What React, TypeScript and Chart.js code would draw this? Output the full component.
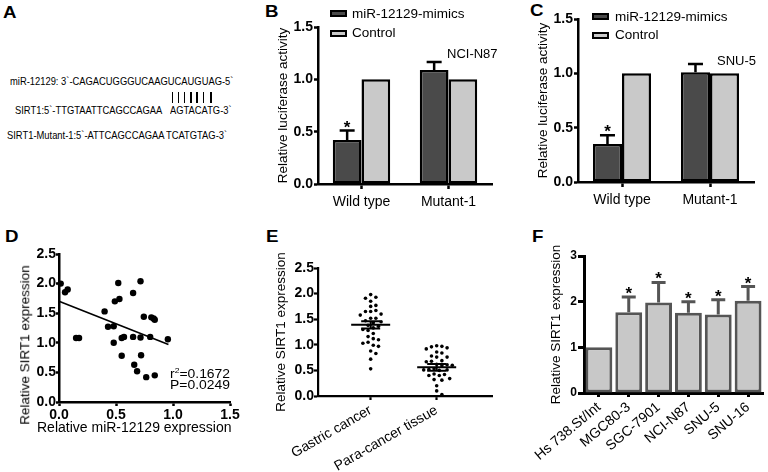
import React, { useEffect, useRef } from "react";
import { Chart, registerables } from "chart.js";
Chart.register(...registerables);

const FONT = "'Liberation Sans', Arial, Helvetica, sans-serif";
Chart.defaults.font.family = FONT;
Chart.defaults.color = "#000";

// ---------------- data ----------------
// Panels B / C (luciferase)
const lucCategories = ["Wild type", "Mutant-1"];
const lucTicks = [0, 0.5, 1.0, 1.5];
const bMimics = [0.42, 1.09];
const bMimicsErr = [0.09, 0.075];
const bControl = [1.0, 1.0];
const bStars = [true, false];
const cMimics = [0.35, 1.01];
const cMimicsErr = [0.08, 0.075];
const cControl = [1.0, 1.0];
const cStars = [true, false];

// Panel D (correlation)
const dMir = [0.015, 0.053, 0.076, 0.15, 0.176, 0.40, 0.43, 0.48, 0.48, 0.49, 0.53, 0.52, 0.55, 0.57, 0.55, 0.65, 0.65, 0.66, 0.685, 0.715, 0.715, 0.72, 0.744, 0.765, 0.80, 0.81, 0.83, 0.84, 0.84, 0.955];
const dSirt = [2.00, 1.855, 1.90, 1.08, 1.08, 1.53, 1.27, 1.28, 1.00, 1.70, 1.74, 2.01, 1.08, 1.10, 0.78, 1.84, 1.10, 0.63, 0.52, 2.04, 1.09, 0.79, 1.44, 0.42, 1.10, 1.43, 1.41, 1.39, 0.45, 1.06];
const dRegX = [0, 0.96];
const dRegY = [1.70, 0.97];
const dXTicks = [0, 0.5, 1.0, 1.5];
const sirtTicks = [0, 0.5, 1.0, 1.5, 2.0, 2.5];

// Panel E (tissue)
const eGroups = ["Gastric cancer", "Para-cancer tissue"];
const eGastric = [1.98, 1.93, 1.91, 1.85, 1.77, 1.75, 1.67, 1.65, 1.65, 1.60, 1.58, 1.52, 1.52, 1.47, 1.45, 1.43, 1.38, 1.36, 1.33, 1.30, 1.28, 1.22, 1.16, 1.12, 1.10, 1.05, 1.03, 0.99, 0.97, 0.88, 0.83, 0.72, 0.53];
const ePara = [0.98, 0.97, 0.96, 0.94, 0.92, 0.86, 0.84, 0.78, 0.76, 0.76, 0.69, 0.68, 0.67, 0.62, 0.61, 0.60, 0.59, 0.53, 0.52, 0.51, 0.51, 0.50, 0.43, 0.42, 0.40, 0.40, 0.34, 0.32, 0.31, 0.20, 0.10, 0.03];
const eMeans = [1.39, 0.56];
const eSems = [0.07, 0.065];

// Panel F (cell lines)
const fLines = ["Hs 738.St/Int", "MGC80-3", "SGC-7901", "NCI-N87", "SNU-5", "SNU-16"];
const fValues = [1.0, 1.77, 1.98, 1.76, 1.72, 2.02];
const fErr = [0, 0.33, 0.44, 0.24, 0.32, 0.31];
const fStars = [false, true, true, true, true, true];
const fTicks = [0, 1, 2, 3];

// ---------------- helpers ----------------
const errorBarPlugin = {
  id: "errorBars",
  afterDatasetsDraw(chart: any) {
    const ctx = chart.ctx;
    chart.data.datasets.forEach((ds: any, di: number) => {
      if (!ds.errors) return;
      const meta = chart.getDatasetMeta(di);
      const ys = chart.scales[meta.yAxisID];
      meta.data.forEach((bar: any, i: number) => {
        const err = ds.errors[i];
        const v = ds.data[i];
        const yTop = ys.getPixelForValue(v + err);
        ctx.save();
        if (err > 0) {
          ctx.strokeStyle = ds.errColor;
          ctx.lineWidth = ds.errWidth;
          ctx.beginPath();
          ctx.moveTo(bar.x, bar.y);
          ctx.lineTo(bar.x, yTop);
          ctx.moveTo(bar.x - ds.capWidth / 2, yTop);
          ctx.lineTo(bar.x + ds.capWidth / 2, yTop);
          ctx.stroke();
        }
        if (ds.stars && ds.stars[i]) {
          ctx.fillStyle = "#000";
          ctx.font = `bold 17px ${FONT}`;
          ctx.textAlign = "center";
          ctx.textBaseline = "alphabetic";
          ctx.fillText("*", bar.x, yTop + 2);
        }
        ctx.restore();
      });
    });
  },
};

const meanSemPlugin = {
  id: "meanSem",
  afterDatasetsDraw(chart: any) {
    const ctx = chart.ctx;
    const xs = chart.scales.x;
    const ys = chart.scales.y;
    ctx.save();
    ctx.strokeStyle = "#000";
    ctx.lineWidth = 2;
    eMeans.forEach((m, i) => {
      const x = xs.getPixelForValue(i + 1);
      const ym = ys.getPixelForValue(m);
      const y1 = ys.getPixelForValue(m + eSems[i]);
      const y0 = ys.getPixelForValue(m - eSems[i]);
      ctx.beginPath();
      ctx.moveTo(x - 19.5, ym);
      ctx.lineTo(x + 19.5, ym);
      ctx.moveTo(x, y0);
      ctx.lineTo(x, y1);
      ctx.moveTo(x - 9.5, y0);
      ctx.lineTo(x + 9.5, y0);
      ctx.moveTo(x - 9.5, y1);
      ctx.lineTo(x + 9.5, y1);
      ctx.stroke();
    });
    ctx.restore();
  },
};

function swarmOffsets(vals: number[], pxPerY: number, minDist: number, step: number): number[] {
  const order = vals.map((_, i) => i).sort((a, b) => vals[b] - vals[a]);
  const placed: { o: number; y: number }[] = [];
  const res = new Array(vals.length).fill(0);
  for (const i of order) {
    const y = vals[i] * pxPerY;
    for (let k = 0; k < 60; k++) {
      const o = (k % 2 === 1 ? 1 : -1) * Math.ceil(k / 2) * step;
      if (placed.every((p) => (p.o - o) ** 2 + (p.y - y) ** 2 >= minDist * minDist)) {
        res[i] = o;
        placed.push({ o, y });
        break;
      }
    }
  }
  return res;
}

function axisStyle(width: number, tickLen: number) {
  return {
    border: { display: true, color: "#000", width },
    grid: {
      display: true,
      drawOnChartArea: false,
      drawTicks: true,
      tickLength: tickLen,
      tickWidth: width,
      tickColor: "#000",
      offset: false,
    },
  };
}

type Area = { top: number; right: number; yw: number; xh: number; tp: number };

function baseOptions(area: Area) {
  return {
    responsive: false,
    animation: false,
    events: [],
    layout: { padding: { left: 0, top: area.top, right: area.right, bottom: 0 } },
    plugins: { legend: { display: false }, tooltip: { enabled: false } },
  };
}

const tickFont = { size: 14, weight: "bold" };

function lucConfig(mimics: number[], err: number[], stars: boolean[], control: number[], area: Area) {
  return {
    type: "bar",
    data: {
      labels: lucCategories,
      datasets: [
        {
          label: "miR-12129-mimics",
          data: mimics,
          backgroundColor: "#4a4a4a",
          borderColor: "#000",
          borderWidth: 2.5,
          borderSkipped: false,
          categoryPercentage: 0.66,
          barPercentage: 1,
          errors: err,
          stars,
          errColor: "#000",
          errWidth: 2.5,
          capWidth: 15,
        },
        {
          label: "Control",
          data: control,
          backgroundColor: "#c9c9c9",
          borderColor: "#000",
          borderWidth: 2.5,
          borderSkipped: false,
          categoryPercentage: 0.66,
          barPercentage: 1,
        },
      ],
    },
    options: {
      ...baseOptions(area),
      scales: {
        x: {
          ...axisStyle(2.5, 5),
          ticks: { font: { size: 14 }, color: "#000", padding: 5, maxRotation: 0, autoSkip: false },
          afterFit: (s: any) => { s.height = area.xh; },
        },
        y: {
          ...axisStyle(2.5, 4),
          min: 0,
          max: 1.5,
          ticks: { font: tickFont, color: "#000", padding: 1, callback: (v: any) => Number(v).toFixed(1) },
          afterBuildTicks: (s: any) => { s.ticks = lucTicks.map((v) => ({ value: v })); },
          afterFit: (s: any) => { s.width = area.yw; },
          title: { display: true, text: "Relative luciferase activity", font: { size: 13.5 }, color: "#000", padding: { top: area.tp, bottom: 0 } },
        },
      },
    },
    plugins: [errorBarPlugin],
  };
}

function dConfig(area: Area) {
  return {
    type: "scatter",
    data: {
      datasets: [
        {
          data: dMir.map((x, i) => ({ x, y: dSirt[i] })),
          pointRadius: 3.2,
          pointBackgroundColor: "#000",
          backgroundColor: "#000",
          pointBorderWidth: 0,
          clip: false,
        },
        {
          data: dRegX.map((x, i) => ({ x, y: dRegY[i] })),
          showLine: true,
          borderColor: "#000",
          borderWidth: 1.6,
          pointRadius: 0,
          fill: false,
          clip: false,
        },
      ],
    },
    options: {
      ...baseOptions(area),
      scales: {
        x: {
          type: "linear",
          min: 0,
          max: 1.5,
          ...axisStyle(2.5, 4),
          ticks: { font: tickFont, color: "#000", padding: 1, callback: (v: any) => Number(v).toFixed(1) },
          afterBuildTicks: (s: any) => { s.ticks = dXTicks.map((v) => ({ value: v })); },
          afterFit: (s: any) => { s.height = area.xh; },
        },
        y: {
          min: 0,
          max: 2.5,
          ...axisStyle(2.5, 3),
          ticks: { font: tickFont, color: "#000", padding: 0, callback: (v: any) => Number(v).toFixed(1) },
          afterBuildTicks: (s: any) => { s.ticks = sirtTicks.map((v) => ({ value: v })); },
          afterFit: (s: any) => { s.width = area.yw; },
        },
      },
    },
  };
}

const E_MIN = 0.202;
const E_MAX = 2.838;
function eConfig(area: Area) {
  const pxPerY = 128 / 2.5;
  const pxPerX = 174 / (E_MAX - E_MIN);
  const groups = [eGastric, ePara];
  return {
    type: "scatter",
    data: {
      datasets: groups.map((vals, gi) => {
        const offs = swarmOffsets(vals, pxPerY, 5, 2.6);
        return {
          data: vals.map((y, i) => ({ x: gi + 1 + offs[i] / pxPerX, y })),
          pointRadius: 1.8,
          pointBackgroundColor: "#000",
          backgroundColor: "#000",
          pointBorderWidth: 0,
          clip: false,
        };
      }),
    },
    options: {
      ...baseOptions(area),
      scales: {
        x: {
          type: "linear",
          min: E_MIN,
          max: E_MAX,
          ...axisStyle(2.2, 4),
          ticks: {
            font: { size: 14 },
            color: "#000",
            padding: 2,
            minRotation: 30,
            maxRotation: 30,
            autoSkip: false,
            callback: (v: any) => eGroups[Math.round(Number(v)) - 1],
          },
          afterBuildTicks: (s: any) => { s.ticks = eGroups.map((_, i) => ({ value: i + 1 })); },
          afterFit: (s: any) => { s.height = area.xh; },
        },
        y: {
          min: 0,
          max: 2.5,
          ...axisStyle(2.2, 4),
          ticks: { font: tickFont, color: "#000", padding: 0, callback: (v: any) => Number(v).toFixed(1) },
          afterBuildTicks: (s: any) => { s.ticks = sirtTicks.map((v) => ({ value: v })); },
          afterFit: (s: any) => { s.width = area.yw; },
          title: { display: true, text: "Relative SIRT1 expression", font: { size: 13.5 }, color: "#000", padding: { top: area.tp, bottom: 0 } },
        },
      },
    },
    plugins: [meanSemPlugin],
  };
}

function fConfig(area: Area) {
  return {
    type: "bar",
    data: {
      labels: fLines,
      datasets: [
        {
          data: fValues,
          backgroundColor: "#c8c8c8",
          borderColor: "#555555",
          borderWidth: 3,
          borderSkipped: false,
          categoryPercentage: 1,
          barPercentage: 0.9,
          errors: fErr,
          stars: fStars,
          errColor: "#555555",
          errWidth: 3,
          capWidth: 14,
        },
      ],
    },
    options: {
      ...baseOptions(area),
      scales: {
        x: {
          ...axisStyle(3, 4),
          ticks: { font: { size: 14 }, color: "#000", padding: 2, minRotation: 40, maxRotation: 40, autoSkip: false },
          afterFit: (s: any) => { s.height = area.xh; },
        },
        y: {
          ...axisStyle(3, 6),
          min: 0,
          max: 3,
          ticks: { font: { size: 12, weight: "bold" }, color: "#000", padding: 1, callback: (v: any) => String(v) },
          afterBuildTicks: (s: any) => { s.ticks = fTicks.map((v) => ({ value: v })); },
          afterFit: (s: any) => { s.width = area.yw; },
          title: { display: true, text: "Relative SIRT1 expression", font: { size: 13.5 }, color: "#000", padding: { top: area.tp, bottom: 0 } },
        },
      },
    },
    plugins: [errorBarPlugin],
  };
}

function ChartCanvas({ x, y, w, h, make }: { x: number; y: number; w: number; h: number; make: () => any }) {
  const ref = useRef<HTMLCanvasElement>(null);
  useEffect(() => {
    const chart = new Chart(ref.current as HTMLCanvasElement, make());
    return () => chart.destroy();
  }, []);
  return (
    <canvas
      ref={ref}
      width={w}
      height={h}
      style={{ position: "absolute", left: x, top: y, width: w, height: h, display: "block" }}
    />
  );
}

function Txt({ x, cy, size, bold = false, sx = 1, children }: any) {
  return (
    <div
      style={{
        position: "absolute",
        left: x,
        top: cy - size * 0.49,
        fontFamily: FONT,
        fontSize: size,
        fontWeight: bold ? 700 : 400,
        lineHeight: 1,
        whiteSpace: "pre",
        color: "#000",
        transform: `scaleX(${sx})`,
        transformOrigin: "left top",
      }}
    >
      {children}
    </div>
  );
}

function VTxt({ cx, cy, size, children }: any) {
  return (
    <div
      style={{
        position: "absolute",
        left: cx,
        top: cy,
        transform: "translate(-50%, -50%) rotate(-90deg)",
        fontFamily: FONT,
        fontSize: size,
        lineHeight: 1,
        whiteSpace: "nowrap",
        color: "#000",
      }}
    >
      {children}
    </div>
  );
}

function Swatch({ x, y, color }: any) {
  return (
    <div
      style={{
        position: "absolute",
        left: x,
        top: y,
        width: 17,
        height: 7,
        boxSizing: "border-box",
        border: "2px solid #000",
        background: color,
      }}
    />
  );
}

const pairBars = [172.3, 178.3, 184.3, 190.7, 196.7, 203.3, 210.7];
const SEQ = 11.5;
const SEQX = 0.815;

export default function App() {
  return (
    <div style={{ position: "fixed", left: 0, top: 0, width: 768, height: 472, background: "#fff", overflow: "hidden" }}>
      {/* Panel letters */}
      <Txt x={3} cy={12.5} size={17} bold sx={1.1}>A</Txt>
      <Txt x={265} cy={11.7} size={17} bold sx={1.1}>B</Txt>
      <Txt x={530} cy={10.3} size={17} bold sx={1.1}>C</Txt>
      <Txt x={5} cy={236} size={17} bold sx={1.1}>D</Txt>
      <Txt x={266} cy={236.5} size={17} bold sx={1.1}>E</Txt>
      <Txt x={532} cy={236} size={17} bold sx={1.1}>F</Txt>

      {/* Panel A: sequences */}
      <Txt x={10} cy={82} size={SEQ} sx={SEQX}>{"miR-12129: 3`-CAGACUGGGUCAAGUCAUGUAG-5`"}</Txt>
      {pairBars.map((bx, i) => (
        <div key={i} style={{ position: "absolute", left: bx - 0.8, top: 91.5, width: 1.7, height: 11, background: "#000" }} />
      ))}
      <Txt x={15} cy={111} size={SEQ} sx={SEQX}>{"SIRT1:5`-TTGTAATTCAGCCAGAA"}</Txt>
      <Txt x={170} cy={111} size={SEQ} sx={SEQX}>{"AGTACATG-3`"}</Txt>
      <Txt x={6.7} cy={135.5} size={SEQ} sx={SEQX}>{"SIRT1-Mutant-1:5`-ATTCAGCCAGAA"}</Txt>
      <Txt x={166} cy={135.5} size={SEQ} sx={SEQX}>{"TCATGTAG-3`"}</Txt>

      {/* Panel B */}
      <ChartCanvas
        x={250}
        y={0}
        w={255}
        h={215}
        make={() => lucConfig(bMimics, bMimicsErr, bStars, bControl, { top: 27, right: 13, yw: 68, xh: 31, tp: 24.9 })}
      />
      <Swatch x={330} y={10} color="#4a4a4a" />
      <Txt x={352} cy={13.7} size={13.5}>miR-12129-mimics</Txt>
      <Swatch x={330} y={29.5} color="#c9c9c9" />
      <Txt x={352} cy={33} size={13.5}>Control</Txt>
      <Txt x={447} cy={53.3} size={13}>NCI-N87</Txt>

      {/* Panel C */}
      <ChartCanvas
        x={510}
        y={0}
        w={258}
        h={215}
        make={() => lucConfig(cMimics, cMimicsErr, cStars, cControl, { top: 19, right: 14, yw: 68, xh: 33, tp: 25.2 })}
      />
      <Swatch x={592} y={13} color="#4a4a4a" />
      <Txt x={615} cy={16.5} size={13.5}>miR-12129-mimics</Txt>
      <Swatch x={592} y={31.5} color="#c9c9c9" />
      <Txt x={615} cy={35} size={13.5}>Control</Txt>
      <Txt x={717} cy={60.7} size={13}>SNU-5</Txt>

      {/* Panel D */}
      <ChartCanvas x={0} y={222} w={250} h={223} make={() => dConfig({ top: 32, right: 20, yw: 59, xh: 43, tp: 0 })} />
      <VTxt cx={25} cy={345} size={13.5}>Relative SIRT1 expression</VTxt>
      <Txt x={37} cy={426.7} size={14}>Relative miR-12129 expression</Txt>
      <Txt x={170} cy={373.3} size={13} sx={1.07}>
        r<sup style={{ fontSize: 8, verticalAlign: "top", lineHeight: 1 }}>2</sup>=0.1672
      </Txt>
      <Txt x={170} cy={384.5} size={13} sx={1.07}>P=0.0249</Txt>

      {/* Panel E */}
      <ChartCanvas x={250} y={222} w={260} h={250} make={() => eConfig({ top: 46, right: 18, yw: 68, xh: 76, tp: 23.6 })} />

      {/* Panel F */}
      <ChartCanvas x={510} y={222} w={258} h={250} make={() => fConfig({ top: 34, right: 5, yw: 74, xh: 79, tp: 38.6 })} />
    </div>
  );
}
